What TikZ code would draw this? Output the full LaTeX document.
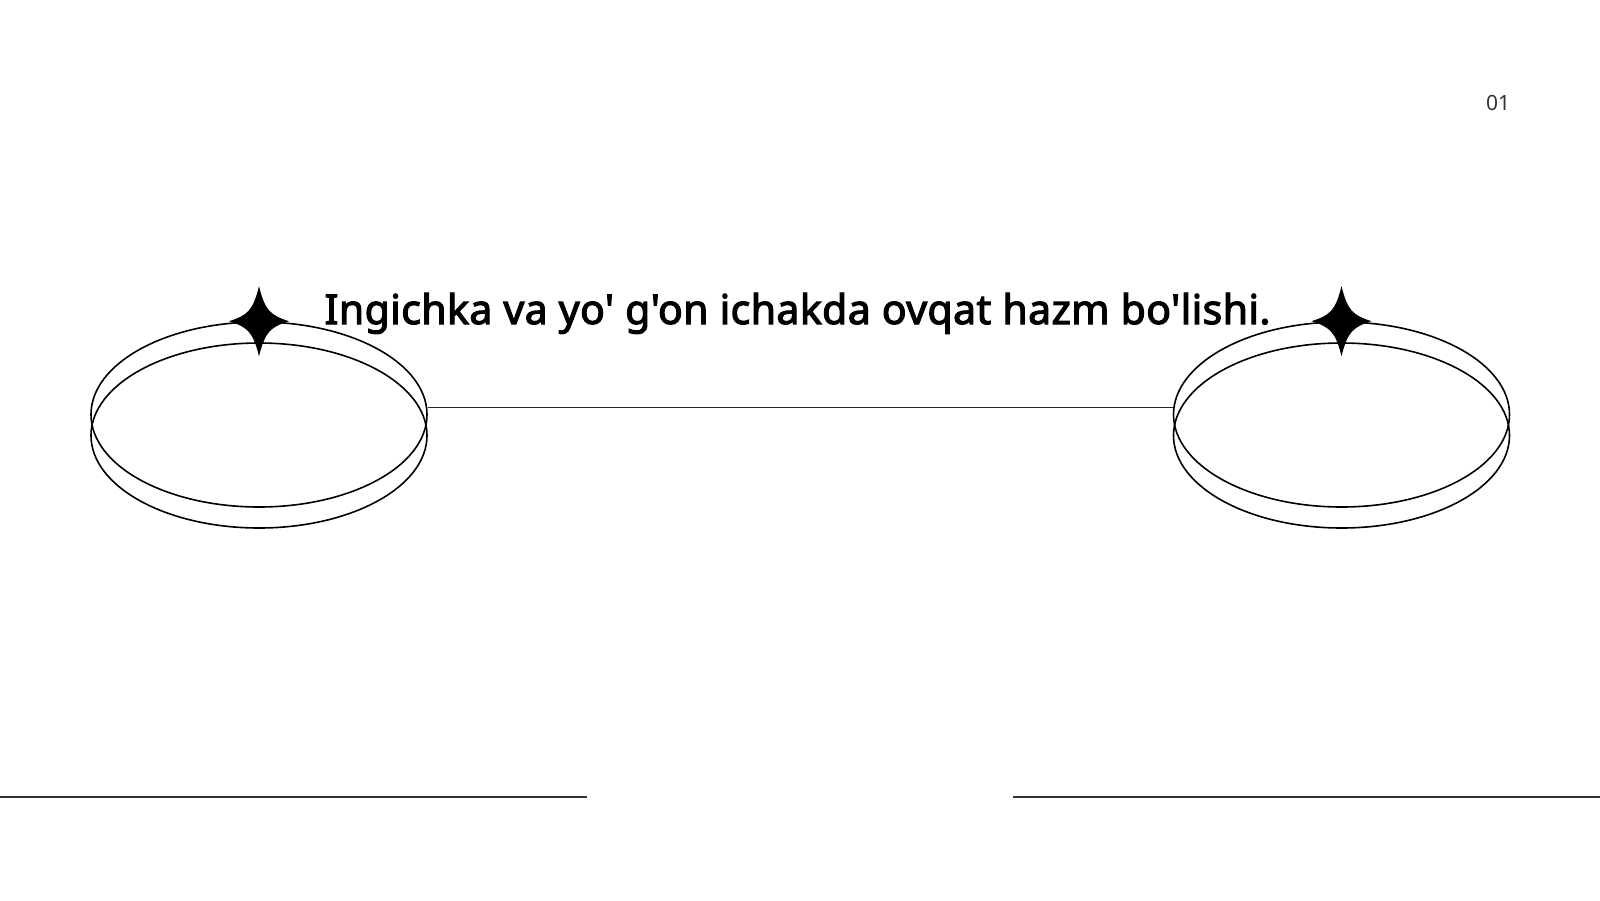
\documentclass[tikz,border=0pt]{standalone}
\usepackage{fontspec}
\setmainfont{Noto Sans}[Ligatures=TeXOff]
\newfontfamily\headfont{Noto Sans}[Ligatures=TeXOff, FakeBold=2.8, LetterSpace=1.0]
\usetikzlibrary{shapes.geometric, positioning}
\tikzstyle{ring} = [ellipse, draw=black, line width=1.6pt, minimum width=336pt, minimum height=185pt, inner sep=0pt]
\tikzstyle{link} = [line width=1.6pt, black!85]
\tikzstyle{rule} = [line width=2pt, black!80]
\tikzstyle{title} = [font=\fontsize{41}{48}\headfont, anchor=base, inner sep=0pt]
\tikzstyle{pagenum} = [font=\fontsize{21}{24}\selectfont, text=black!80, anchor=base, inner sep=0pt]
\tikzset{sparkle/.pic={
  \fill[black] (0,-35) .. controls (6,-11) and (11,-6) .. (30,0)
    .. controls (11,6) and (6,11) .. (0,35)
    .. controls (-6,11) and (-11,6) .. (-30,0)
    .. controls (-11,-6) and (-6,-11) .. cycle;
}}

\begin{document}
\begin{tikzpicture}[x=1pt, y=-1pt]
\useasboundingbox[fill=white] (0,0) rectangle (1600,900);

\node (ringLtop) [ring] at (259,414.5) {};
\node (ringLbot) [ring, below of=ringLtop, node distance=21pt] {};
\node (ringRtop) [ring, right of=ringLtop, node distance=1082.5pt] {};
\node (ringRbot) [ring, below of=ringRtop, node distance=21pt] {};

\pic at (ringLtop.north) {sparkle};
\pic at (ringRtop.north) {sparkle};

\node (head) [title] at (797.5,324) {Ingichka va yo' g'on ichakda ovqat hazm bo'lishi.};
\node (num) [pagenum] at (1498,110) {01};

\coordinate (ruleL1) at (0,797);
\coordinate (ruleL2) at (587,797);
\coordinate (ruleR1) at (1013,797);
\coordinate (ruleR2) at (1600,797);

\draw [link]([yshift=7pt]ringLtop.east) -- ([yshift=7pt]ringRtop.west);
\draw [rule](ruleL1) -- (ruleL2);
\draw [rule](ruleR1) -- (ruleR2);
\end{tikzpicture}
\end{document}
